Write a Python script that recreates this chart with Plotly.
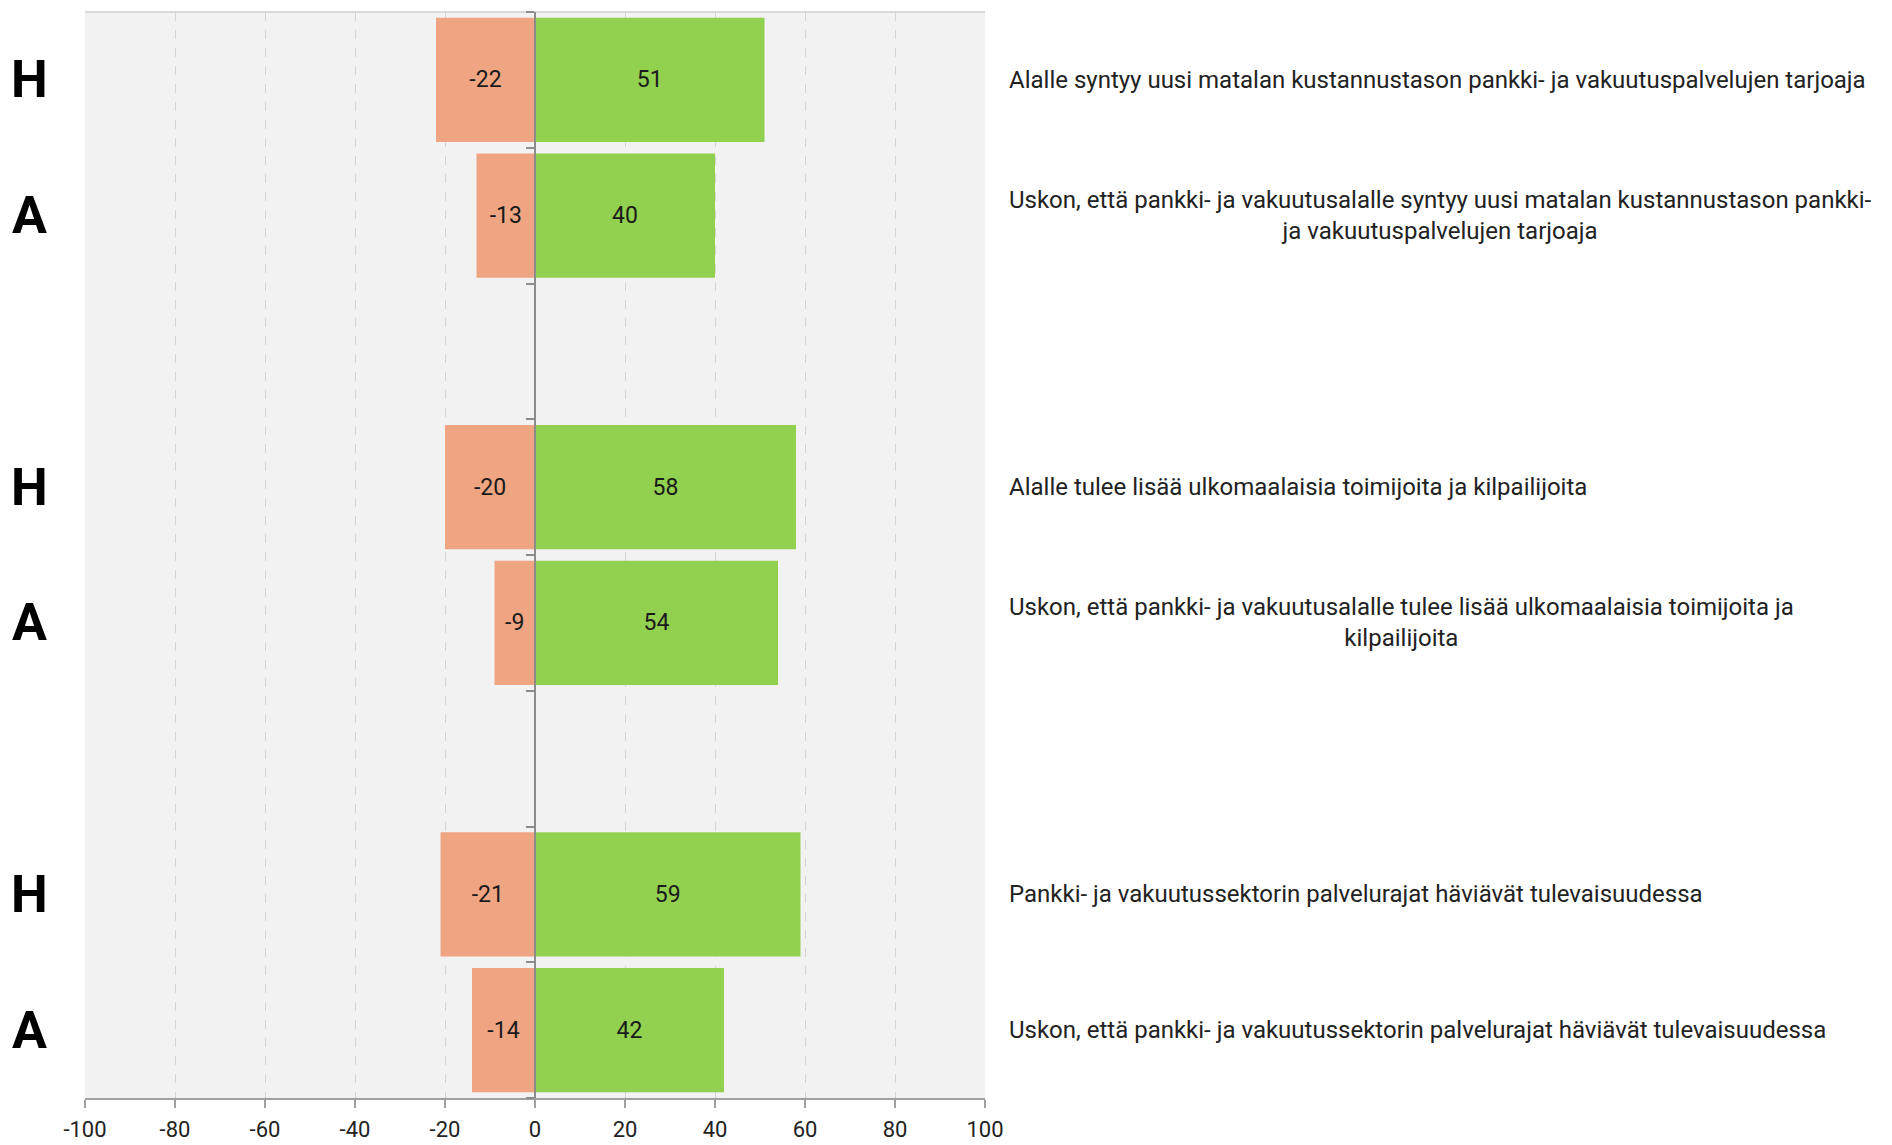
import plotly.graph_objects as go

# ---- data ----
groups = ["H", "A", "H", "A", "H", "A"]
positions = [0, 1, 3, 4, 6, 7]          # slot index (gaps at 2 and 5)
statements = [
    "Alalle syntyy uusi matalan kustannustason pankki- ja vakuutuspalvelujen tarjoaja",
    "Uskon, että pankki- ja vakuutusalalle syntyy uusi matalan kustannustason pankki-<br>ja vakuutuspalvelujen tarjoaja",
    "Alalle tulee lisää ulkomaalaisia toimijoita ja kilpailijoita",
    "Uskon, että pankki- ja vakuutusalalle tulee lisää ulkomaalaisia toimijoita ja<br>kilpailijoita",
    "Pankki- ja vakuutussektorin palvelurajat häviävät tulevaisuudessa",
    "Uskon, että pankki- ja vakuutussektorin palvelurajat häviävät tulevaisuudessa",
]
negative = [-22, -13, -20, -9, -21, -14]
positive = [51, 40, 58, 54, 59, 42]
x_ticks = [-100, -80, -60, -40, -20, 0, 20, 40, 60, 80, 100]

NEG_COLOR = "#F0A582"
POS_COLOR = "#92D050"
FONT = "Roboto, 'Open Sans', sans-serif"

fig = go.Figure()
for vals, col in ((negative, NEG_COLOR), (positive, POS_COLOR)):
    fig.add_trace(go.Bar(
        x=vals, y=positions, orientation="h",
        marker=dict(color=col, line=dict(width=0)),
        width=0.915,
        text=[str(v) for v in vals],
        textposition="inside", insidetextanchor="middle",
        textangle=0, constraintext="none",
        textfont=dict(family=FONT, size=23, color="#1a1a1a"),
        hoverinfo="skip", showlegend=False,
    ))

n_slots = 8
boundaries = [i - 0.5 for i in range(n_slots + 1)]

fig.update_layout(
    width=1884, height=1137,
    margin=dict(l=77, r=907, t=4, b=47, autoexpand=False),
    paper_bgcolor="white",
    plot_bgcolor="#F2F2F2",
    barmode="relative",
    font=dict(family=FONT, color="#222222"),
    xaxis=dict(
        range=[-100, 100], tickvals=x_ticks,
        ticktext=[str(v) for v in x_ticks],
        tickfont=dict(size=22, color="#222222"),
        ticklabelstandoff=3, automargin=False,
        showgrid=True, gridcolor="#D4D4D4", griddash="dash", gridwidth=1,
        zeroline=False,
        showline=True, linecolor="#A0A0A0", linewidth=2,
        ticks="outside", ticklen=8, tickcolor="#A0A0A0", tickwidth=1.5,
        mirror=False, fixedrange=True,
    ),
    yaxis=dict(
        range=[n_slots - 0.5, -0.5],
        tickvals=boundaries, ticktext=["" for _ in boundaries],
        showgrid=False, zeroline=False, automargin=False,
        showline=True, linecolor="#8C8C8C", linewidth=1.5,
        ticks="outside", ticklen=8, tickcolor="#8C8C8C", tickwidth=1.5,
        anchor="free", position=0.5, fixedrange=True,
    ),
)

# top border of plot area
fig.add_shape(type="line", xref="paper", yref="paper", x0=0, x1=1, y0=1, y1=1,
              line=dict(color="#D9D9D9", width=2), layer="below")

for g, p, s in zip(groups, positions, statements):
    fig.add_annotation(
        text=g, xref="paper", yref="y", x=0, y=p,
        xanchor="center", yanchor="middle", xshift=-56, showarrow=False,
        font=dict(family=FONT, size=52, color="black", weight="bold"),
    )
    fig.add_annotation(
        text=s, xref="paper", yref="y", x=1, y=p,
        xanchor="left", yanchor="middle", xshift=22, align="center",
        showarrow=False,
        font=dict(family=FONT, size=24, color="#222222"),
    )

fig.write_html("out.html")
